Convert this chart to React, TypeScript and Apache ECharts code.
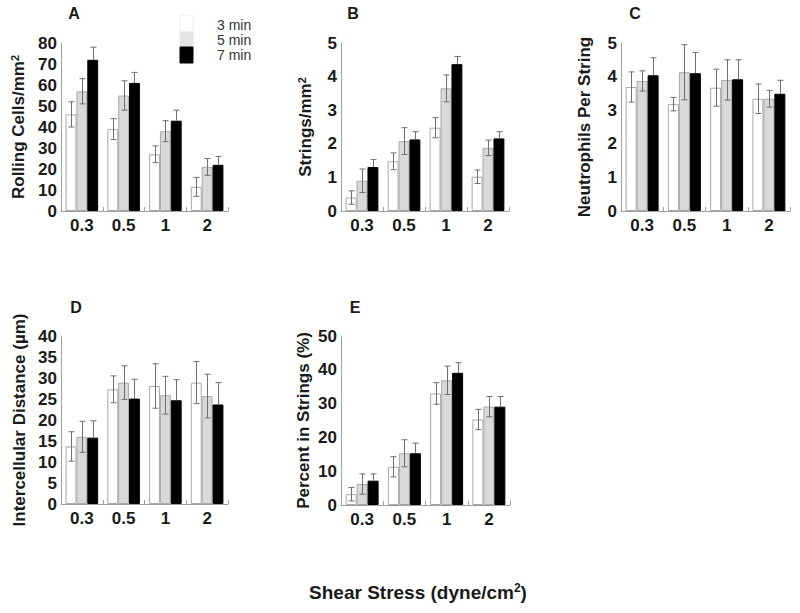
import React, { useEffect, useRef } from "react";
import * as echarts from "echarts";

const categories = ["0.3", "0.5", "1", "2"];
const timeLabels = ["3 min", "5 min", "7 min"];

// A: Rolling Cells/mm2
const rolling3 = [46, 39, 27, 11.5];
const rolling3Err = [6, 5, 4, 4.5];
const rolling5 = [57, 55, 38, 21];
const rolling5Err = [6, 7, 5, 4];
const rolling7 = [72, 61, 43, 22];
const rolling7Err = [6, 5, 5, 4];

// B: Strings/mm2
const strings3 = [0.4, 1.48, 2.48, 1.02];
const strings3Err = [0.2, 0.25, 0.3, 0.2];
const strings5 = [0.9, 2.08, 3.65, 1.88];
const strings5Err = [0.35, 0.4, 0.4, 0.23];
const strings7 = [1.31, 2.13, 4.37, 2.16];
const strings7Err = [0.22, 0.23, 0.23, 0.2];

// C: Neutrophils Per String
const neut3 = [3.69, 3.18, 3.67, 3.34];
const neut3Err = [0.45, 0.2, 0.55, 0.44];
const neut5 = [3.87, 4.13, 3.9, 3.34];
const neut5Err = [0.3, 0.82, 0.6, 0.25];
const neut7 = [4.04, 4.1, 3.92, 3.49];
const neut7Err = [0.52, 0.62, 0.58, 0.4];

// D: Intercellular Distance (µm)
const dist3 = [13.7, 27.3, 28.1, 28.9];
const dist3Err = [3.5, 3.2, 5.3, 5];
const dist5 = [16, 28.9, 25.9, 25.7];
const dist5Err = [3.7, 4, 4.5, 5.2];
const dist7 = [15.8, 25.1, 24.7, 23.7];
const dist7Err = [4, 4.6, 4.9, 5.2];

// E: Percent in Strings (%)
const pct3 = [3.2, 11.3, 33, 25.3];
const pct3Err = [2, 3, 3.2, 3];
const pct5 = [6.2, 15.3, 36.9, 29.1];
const pct5Err = [3, 4, 4.2, 3];
const pct7 = [7.2, 15.3, 39.1, 29.1];
const pct7Err = [2, 3, 3, 3];

const panels = [
  { letter: "A", name: "Rolling Cells/mm{sup|2}", max: 80, interval: 10, gap: 33,
    means: [rolling3, rolling5, rolling7], errs: [rolling3Err, rolling5Err, rolling7Err],
    grid: { left: 61, top: 43, width: 167, height: 168 }, letterPos: [74, 13] },
  { letter: "B", name: "Strings/mm{sup|2}", max: 5, interval: 1, gap: 26,
    means: [strings3, strings5, strings7], errs: [strings3Err, strings5Err, strings7Err],
    grid: { left: 341, top: 43, width: 168, height: 168 }, letterPos: [353, 13] },
  { letter: "C", name: "Neutrophils Per String", max: 5, interval: 1, gap: 28,
    means: [neut3, neut5, neut7], errs: [neut3Err, neut5Err, neut7Err],
    grid: { left: 621, top: 43, width: 169, height: 168 }, letterPos: [635, 13] },
  { letter: "D", name: "Intercellular Distance (µm)", max: 40, interval: 5, gap: 33,
    means: [dist3, dist5, dist7], errs: [dist3Err, dist5Err, dist7Err],
    grid: { left: 61, top: 336, width: 167, height: 168 }, letterPos: [76, 307] },
  { letter: "E", name: "Percent in Strings (%)", max: 50, interval: 10, gap: 29,
    means: [pct3, pct5, pct7], errs: [pct3Err, pct5Err, pct7Err],
    grid: { left: 341, top: 336, width: 169, height: 169 }, letterPos: [355, 307] },
];

const FONT = "Liberation Sans, Arial, sans-serif";
const CAT_GAP = 0.22;
const fills = ["#ffffff", "#d9d9d9", "#000000"];
const borders = ["#a8a8a8", "#a8a8a8", "#000000"];

function buildOption() {
  const grids: any[] = [];
  const xAxes: any[] = [];
  const yAxes: any[] = [];
  const series: any[] = [];
  const graphics: any[] = [];

  panels.forEach((p, gi) => {
    grids.push({ ...p.grid });
    xAxes.push({
      type: "category",
      gridIndex: gi,
      data: categories,
      axisLine: { show: true, lineStyle: { color: "#a0a0a0", width: 1 } },
      axisTick: { show: true, inside: true, length: 4, lineStyle: { color: "#a0a0a0" } },
      axisLabel: { fontFamily: FONT, fontWeight: "bold", fontSize: 17, color: "#1a1a1a", margin: 6 },
      splitLine: { show: false },
    });
    yAxes.push({
      type: "value",
      gridIndex: gi,
      min: 0,
      max: p.max,
      interval: p.interval,
      name: p.name,
      nameLocation: "middle",
      nameGap: p.gap,
      nameRotate: 90,
      nameTextStyle: {
        fontFamily: FONT, fontWeight: "bold", fontSize: 17, color: "#1a1a1a",
        rich: { sup: { fontFamily: FONT, fontWeight: "bold", fontSize: 11, color: "#1a1a1a", verticalAlign: "top", padding: [0, 0, 8, 0] } },
      },
      axisLine: { show: true, lineStyle: { color: "#a0a0a0", width: 1 } },
      axisTick: { show: false },
      axisLabel: { fontFamily: FONT, fontWeight: "bold", fontSize: 17, color: "#1a1a1a", margin: 4 },
      splitLine: { show: false },
    });

    p.means.forEach((vals, k) => {
      series.push({
        type: "bar",
        name: timeLabels[k],
        xAxisIndex: gi,
        yAxisIndex: gi,
        data: vals,
        barGap: "0%",
        barCategoryGap: CAT_GAP * 100 + "%",
        itemStyle: { color: fills[k], borderColor: borders[k], borderWidth: 1 },
        silent: true,
      });
    });
    p.means.forEach((vals, k) => {
      const errData = vals.map((v, i) => [i, v, p.errs[k][i]]);
      series.push({
        type: "custom",
        xAxisIndex: gi,
        yAxisIndex: gi,
        data: errData,
        z: 10,
        silent: true,
        renderItem: (params: any, api: any) => {
          const ci = api.value(0);
          const m = api.value(1);
          const e = api.value(2);
          const band = api.size([1, 0])[0];
          const bw = (band * (1 - CAT_GAP)) / 3;
          const c = api.coord([ci, m]);
          const x = Math.round(c[0] + (k - 1) * bw) + 0.5;
          const top = api.coord([ci, m + e])[1];
          const bottom = k === 2 ? c[1] : api.coord([ci, m - e])[1];
          const cap = 3;
          const st = { stroke: "#6f6f6f", lineWidth: 1 };
          const children: any[] = [
            { type: "line", shape: { x1: x, y1: top, x2: x, y2: bottom }, style: st },
            { type: "line", shape: { x1: x - cap, y1: top, x2: x + cap, y2: top }, style: st },
          ];
          if (k !== 2) {
            children.push({ type: "line", shape: { x1: x - cap, y1: bottom, x2: x + cap, y2: bottom }, style: st });
          }
          return { type: "group", children };
        },
      });
    });

    graphics.push({
      type: "text",
      x: p.letterPos[0],
      y: p.letterPos[1],
      style: { text: p.letter, fontFamily: FONT, fontWeight: "bold", fontSize: 16, fill: "#1a1a1a", align: "center", verticalAlign: "middle" },
    });
  });

  // legend
  const boxes = [
    { y: 15, h: 17 },
    { y: 32, h: 15 },
    { y: 47, h: 16 },
  ];
  const legendFills = ["#ffffff", "#e4e4e4", "#000000"];
  boxes.forEach((b, k) => {
    graphics.push({
      type: "rect",
      shape: { x: 180, y: b.y, width: 13, height: b.h },
      style: { fill: legendFills[k], stroke: k === 0 ? "#eeeeee" : legendFills[k], lineWidth: 1 },
    });
    graphics.push({
      type: "text",
      x: 217,
      y: [25, 40, 55][k],
      style: { text: timeLabels[k], fontFamily: FONT, fontSize: 14, lineHeight: 14, fill: "#333333", align: "left", verticalAlign: "middle" },
    });
  });

  graphics.push({
    type: "text",
    x: 418,
    y: 592,
    style: {
      text: "Shear Stress (dyne/cm{sup|2})",
      fontFamily: FONT, fontWeight: "bold", fontSize: 19, fill: "#1a1a1a",
      align: "center", verticalAlign: "middle",
      rich: { sup: { fontFamily: FONT, fontWeight: "bold", fontSize: 12, fill: "#1a1a1a", verticalAlign: "top", padding: [0, 0, 8, 0] } },
    },
  });

  return {
    animation: false,
    backgroundColor: "#ffffff",
    grid: grids,
    xAxis: xAxes,
    yAxis: yAxes,
    series,
    graphic: graphics,
  };
}

export default function App() {
  const ref = useRef<HTMLDivElement>(null);
  useEffect(() => {
    if (!ref.current) return;
    const chart = echarts.init(ref.current, null, { renderer: "svg" });
    chart.setOption(buildOption() as any);
    return () => chart.dispose();
  }, []);
  return (
    <div
      ref={ref}
      style={{ position: "absolute", left: 0, top: 0, width: 800, height: 613, background: "#fff" }}
    />
  );
}
